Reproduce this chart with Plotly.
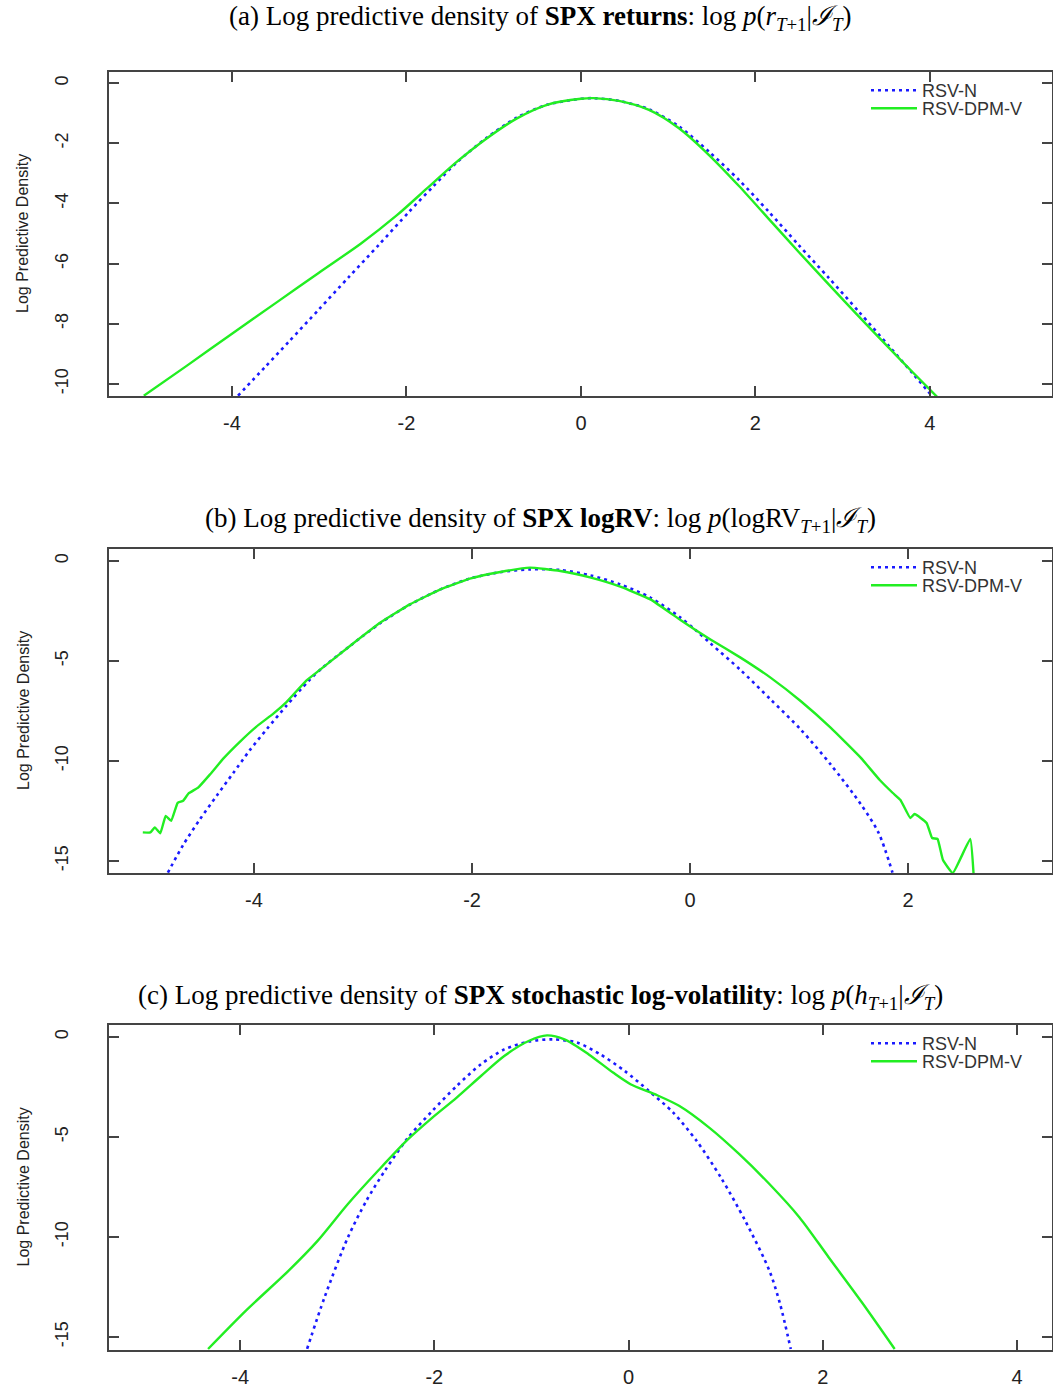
import plotly.graph_objects as go

# ---------------- (a) SPX returns ----------------
ret_x_n = [-3.931, -3.622, -3.347, -3.003, -2.659, -2.315, -1.971, -1.696, -1.421, -1.077,
           -0.733, -0.389, 0.0, 0.147, 0.436, 0.780, 1.124, 1.468, 1.812, 2.155,
           2.499, 2.843, 3.187, 3.531, 3.806, 4.03]
ret_y_n = [-10.39, -9.44, -8.59, -7.52, -6.44, -5.37, -4.28, -3.44, -2.63, -1.81,
           -1.14, -0.72, -0.52, -0.50, -0.59, -0.87, -1.44, -2.28, -3.22, -4.28,
           -5.39, -6.48, -7.60, -8.74, -9.66, -10.42]
ret_x_dpm = [-5.011, -4.516, -4.0, -3.484, -3.003, -2.521, -2.109, -1.765, -1.421, -1.077,
             -0.733, -0.389, 0.0, 0.147, 0.436, 0.780, 1.124, 1.468, 1.812, 2.155,
             2.499, 2.843, 3.187, 3.531, 3.806, 4.09]
ret_y_dpm = [-10.39, -9.39, -8.33, -7.28, -6.30, -5.33, -4.39, -3.50, -2.61, -1.83,
             -1.17, -0.72, -0.52, -0.50, -0.59, -0.89, -1.50, -2.39, -3.42, -4.52,
             -5.62, -6.70, -7.76, -8.80, -9.62, -10.45]

# ---------------- (b) SPX logRV ----------------
rv_x_n = [-4.79, -4.65, -4.50, -4.34, -4.19, -4.04, -3.88, -3.70, -3.50, -3.39,
          -3.12, -2.84, -2.57, -2.29, -2.02, -1.74, -1.47, -1.19, -0.915, -0.64,
          -0.364, -0.088, 0.050, 0.187, 0.463, 0.738, 1.014, 1.289, 1.565, 1.730, 1.857]
rv_y_n = [-15.58, -14.2, -12.95, -11.72, -10.6, -9.47, -8.39, -7.22, -6.0, -5.42,
          -4.25, -3.1, -2.18, -1.42, -0.88, -0.56, -0.42, -0.45, -0.72, -1.17,
          -1.83, -2.83, -3.45, -4.12, -5.45, -6.92, -8.42, -10.17, -12.15, -13.6, -15.58]
rv_x_dpm = [-5.02, -4.95, -4.91, -4.86, -4.81, -4.76, -4.70, -4.65, -4.60, -4.51,
            -4.40, -4.28, -4.13, -3.98, -3.82, -3.70, -3.52, -3.39, -3.12, -2.84,
            -2.57, -2.29, -2.02, -1.74, -1.47, -1.19, -0.91, -0.64, -0.364, -0.088,
            0.050, 0.187, 0.463, 0.738, 1.014, 1.289, 1.565, 1.74, 1.86, 1.93,
            2.02, 2.06, 2.17, 2.22, 2.27, 2.32, 2.41, 2.57, 2.60]
rv_y_dpm = [-13.57, -13.57, -13.32, -13.62, -12.75, -12.99, -12.09, -11.99, -11.62, -11.32,
            -10.65, -9.87, -9.04, -8.29, -7.62, -7.04, -5.98, -5.42, -4.25, -3.08,
            -2.17, -1.42, -0.88, -0.55, -0.33, -0.5, -0.83, -1.28, -1.92, -2.95,
            -3.45, -3.92, -4.83, -5.83, -7.0, -8.33, -9.83, -10.95, -11.6, -11.95,
            -12.85, -12.65, -13.1, -13.85, -13.9, -14.95, -15.6, -13.9, -15.6]

# ---------------- (c) SPX stochastic log-volatility ----------------
h_x_n = [-3.31, -3.13, -2.89, -2.70, -2.51, -2.27, -2.02, -1.77, -1.52, -1.28,
         -1.03, -0.78, -0.53, -0.29, -0.04, 0.21, 0.46, 0.70, 0.95, 1.20,
         1.45, 1.56, 1.67]
h_y_n = [-15.59, -13.01, -10.02, -8.19, -6.69, -5.03, -3.69, -2.45, -1.36, -0.62,
         -0.23, -0.12, -0.28, -0.87, -1.70, -2.70, -3.78, -5.19, -7.02, -9.18,
         -11.68, -13.35, -15.6]
h_x_dpm = [-4.33, -3.94, -3.50, -3.20, -2.89, -2.58, -2.27, -2.02, -1.77, -1.52,
           -1.28, -1.03, -0.84, -0.66, -0.41, -0.16, 0.02, 0.27, 0.52, 0.83,
           1.14, 1.45, 1.76, 2.06, 2.40, 2.74]
h_y_dpm = [-15.6, -13.68, -11.68, -10.18, -8.35, -6.69, -5.11, -4.03, -3.03, -1.95,
           -0.95, -0.2, 0.08, -0.12, -0.87, -1.78, -2.36, -2.86, -3.44, -4.53,
           -5.86, -7.35, -9.02, -11.01, -13.25, -15.6]

series_names = ["RSV-N", "RSV-DPM-V"]

panel_titles = [
    "(a) Log predictive density of <b>SPX returns</b>: log <i>p</i>(<i>r</i><sub><i>T</i>+1</sub>|<i>ℐ</i><sub><i>T</i></sub>)",
    "(b) Log predictive density of <b>SPX logRV</b>: log <i>p</i>(logRV<sub><i>T</i>+1</sub>|<i>ℐ</i><sub><i>T</i></sub>)",
    "(c) Log predictive density of <b>SPX stochastic log-volatility</b>: log <i>p</i>(<i>h</i><sub><i>T</i>+1</sub>|<i>ℐ</i><sub><i>T</i></sub>)",
]
y_label = "Log Predictive Density"

x_ticks = [[-4, -2, 0, 2, 4], [-4, -2, 0, 2], [-4, -2, 0, 2, 4]]
y_ticks = [[0, -2, -4, -6, -8, -10], [0, -5, -10, -15], [0, -5, -10, -15]]

x_ranges = [[-5.41, 5.40], [-5.33, 3.32], [-5.35, 4.36]]
y_ranges = [[-10.4, 0.37], [-15.6, 0.6], [-15.65, 0.6]]

panels = [
    (ret_x_n, ret_y_n, ret_x_dpm, ret_y_dpm),
    (rv_x_n, rv_y_n, rv_x_dpm, rv_y_dpm),
    (h_x_n, h_y_n, h_x_dpm, h_y_dpm),
]

W, H = 1053, 1388
# pixel frame of each panel: (top, bottom)
frames = [(72, 396), (549, 873), (1025, 1350)]
title_y = [18, 520, 997]
left_px, right_px = 109, 1052

BLUE = "#1a1aff"
GREEN = "#22ee22"
AX = "#444444"
SANS = "Liberation Sans, Arial, sans-serif"

fig = go.Figure()
layout = dict(
    width=W, height=H,
    margin=dict(l=0, r=0, t=0, b=0),
    paper_bgcolor="white", plot_bgcolor="white",
    showlegend=True,
    annotations=[],
)


def legend_key(n):
    return "legend" if n == 0 else "legend%d" % (n + 1)


for i, (xn, yn, xd, yd) in enumerate(panels):
    sfx = "" if i == 0 else str(i + 1)
    xa, ya = "x" + sfx, "y" + sfx
    top, bot = frames[i]
    leg_n = legend_key(2 * i)
    leg_d = legend_key(2 * i + 1)

    fig.add_trace(go.Scatter(
        x=xn, y=yn, mode="lines", name=series_names[0], xaxis=xa, yaxis=ya,
        legend=leg_n, line=dict(color=BLUE, width=2.6, dash="3px,4px", shape="spline", smoothing=0.8),
    ))
    fig.add_trace(go.Scatter(
        x=xd, y=yd, mode="lines", name=series_names[1], xaxis=xa, yaxis=ya,
        legend=leg_d,
        line=dict(color=GREEN, width=2.4, shape="spline", smoothing=0.35 if i == 1 else 0.8),
    ))

    ydom = [1 - bot / H, 1 - top / H]
    xdom = [left_px / W, right_px / W]
    common = dict(
        showline=True, linecolor=AX, linewidth=1.5, mirror="ticks",
        ticks="inside", ticklen=10, tickwidth=1.5, tickcolor=AX,
        showgrid=False, zeroline=False,
    )
    layout["xaxis" + sfx] = dict(
        common, domain=xdom, anchor=ya, range=x_ranges[i],
        tickmode="array", tickvals=x_ticks[i], ticktext=[str(v) for v in x_ticks[i]],
        tickfont=dict(family=SANS, size=20, color="#222222"),
        ticklabelstandoff=8,
    )
    layout["yaxis" + sfx] = dict(
        common, domain=ydom, anchor=xa, range=y_ranges[i],
        tickmode="array", tickvals=y_ticks[i], ticktext=[str(v) for v in y_ticks[i]],
        tickfont=dict(family=SANS, size=18, color="#222222"),
        tickangle=-90, ticklabelstandoff=32,
    )
    for row, key in enumerate((leg_n, leg_d)):
        layout[key] = dict(
            x=866 / W, y=1 - (top + 18 * row) / H, xanchor="left", yanchor="top",
            bgcolor="rgba(0,0,0,0)", borderwidth=0,
            font=dict(family=SANS, size=18, color="#333333"),
            itemwidth=46,
        )
    layout["annotations"].append(dict(
        text=panel_titles[i], xref="paper", yref="paper",
        x=540 / W, y=1 - title_y[i] / H, xanchor="center", yanchor="middle",
        showarrow=False, font=dict(family="Liberation Serif, Times New Roman, serif", size=27, color="black"),
    ))
    layout["annotations"].append(dict(
        text=y_label, xref="paper", yref="paper",
        x=23 / W, y=1 - (top + bot) / 2 / H, xanchor="center", yanchor="middle",
        textangle=-90, showarrow=False,
        font=dict(family=SANS, size=16, color="#222222"),
    ))

fig.update_layout(**layout)
fig.write_html("out.html")
